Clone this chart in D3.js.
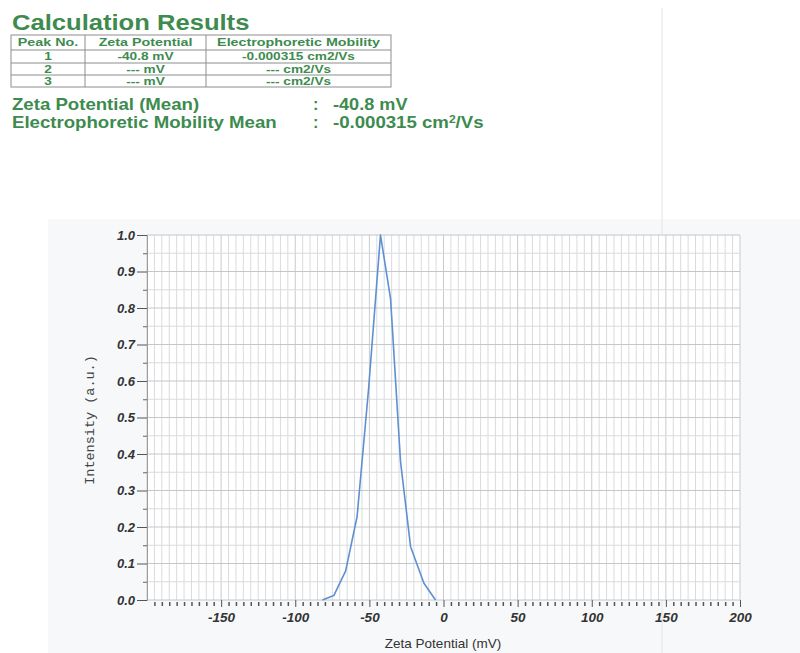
<!DOCTYPE html>
<html><head><meta charset="utf-8">
<script src="https://cdn.jsdelivr.net/npm/d3@7"></script>
<style>body{margin:0;background:#fff;}svg{display:block;}</style>
</head><body>
<svg id="c" width="800" height="653"></svg>
<script>
// ---- data ----
const zeta = [-81.7, -74, -66, -58.3, -50.5, -42.5, -35.7, -29, -22.2, -13.2, -5.4];
const intensity = [0.0, 0.012, 0.08, 0.228, 0.58, 1.0, 0.825, 0.38, 0.146, 0.046, 0.0];
const xTickLabels = [-150, -100, -50, 0, 50, 100, 150, 200];
const yTickLabels = [0, 0.1, 0.2, 0.3, 0.4, 0.5, 0.6, 0.7, 0.8, 0.9, 1.0];
const tableHeader = ["Peak No.", "Zeta Potential", "Electrophoretic Mobility"];
const tableRows = [["1", "-40.8 mV", "-0.000315 cm2/Vs"], ["2", "--- mV", "--- cm2/Vs"], ["3", "--- mV", "--- cm2/Vs"]];
const meanZeta = "-40.8 mV";
const meanMobility = "-0.000315";

(function () {
const svg = d3.select("#c");
const green = "#3d8b4e";
const sans = "Liberation Sans, Arial, sans-serif";
// horizontally widen a text element around its anchor x
function widen(sel, k, x0) {
  sel.attr("transform", `translate(${x0},0) scale(${k},1) translate(${-x0},0)`);
  return sel;
}

// faint page background / scan artifacts
svg.append("rect").attr("x", 48).attr("y", 219).attr("width", 752).attr("height", 434).attr("fill", "#f6f8f9");
svg.append("line").attr("x1", 662).attr("x2", 662).attr("y1", 8).attr("y2", 653).attr("stroke", "#e2e4e6").attr("stroke-width", 1);

// ---- header ----
widen(svg.append("text").attr("x", 12).attr("y", 30).text("Calculation Results")
  .attr("font-family", sans).attr("font-weight", "bold")
  .attr("font-size", 21.5).attr("fill", green), 1.19, 12);

const colX = [11, 85, 206, 391];
const rowY = [35, 50, 63, 75, 87];
const tbl = svg.append("g");
tbl.append("rect").attr("x", colX[0]).attr("y", rowY[0]).attr("width", colX[3] - colX[0]).attr("height", rowY[4] - rowY[0])
  .attr("fill", "#fff").attr("stroke", "#8a8f8c").attr("stroke-width", 1);
rowY.slice(1, 4).forEach(yy => tbl.append("line").attr("x1", colX[0]).attr("x2", colX[3]).attr("y1", yy).attr("y2", yy).attr("stroke", "#8a8f8c"));
colX.slice(1, 3).forEach(xx => tbl.append("line").attr("x1", xx).attr("x2", xx).attr("y1", rowY[0]).attr("y2", rowY[4]).attr("stroke", "#8a8f8c"));
const allRows = [tableHeader].concat(tableRows);
allRows.forEach((r, i) => {
  r.forEach((t, j) => {
    const cx = (colX[j] + colX[j + 1]) / 2;
    widen(tbl.append("text").attr("x", cx).attr("y", (rowY[i] + rowY[i + 1]) / 2 + 4)
      .attr("text-anchor", "middle").text(t)
      .attr("font-family", sans).attr("font-weight", "bold")
      .attr("font-size", i === 0 ? 11 : 10.5).attr("fill", green), 1.3, cx);
  });
});

const meanG = svg.append("g").attr("font-family", sans).attr("font-weight", "bold")
  .attr("font-size", 16.2).attr("fill", green);
widen(meanG.append("text").attr("x", 12).attr("y", 110).text("Zeta Potential (Mean)"), 1.15, 12);
widen(meanG.append("text").attr("x", 12).attr("y", 128).text("Electrophoretic Mobility Mean"), 1.15, 12);
meanG.append("text").attr("x", 313).attr("y", 110).text(":");
meanG.append("text").attr("x", 313).attr("y", 128).text(":");
widen(meanG.append("text").attr("x", 333).attr("y", 110).text(meanZeta), 1.12, 333);
const mt = meanG.append("text").attr("x", 333).attr("y", 128);
mt.append("tspan").text(meanMobility + " cm");
mt.append("tspan").attr("font-size", 10.5).attr("dy", -5).text("2");
mt.append("tspan").attr("dy", 5).text("/Vs");
widen(mt, 1.15, 333);

// ---- chart ----
const pL = 147, pR = 740, pT = 235, pB = 600;
const x = d3.scaleLinear().domain([-200, 200]).range([pL, pR]);
const y = d3.scaleLinear().domain([0, 1]).range([pB, pT]);

const grid = svg.append("g");
grid.append("rect").attr("x", pL).attr("y", pT).attr("width", pR - pL).attr("height", pB - pT).attr("fill", "#fff");
d3.range(-200, 201, 5).forEach(v => {
  grid.append("line").attr("x1", x(v)).attr("x2", x(v)).attr("y1", pT).attr("y2", pB)
    .attr("stroke", v % 50 === 0 ? "#c8cacc" : "#d9dbdd").attr("stroke-width", 1);
});
d3.range(0, 21).forEach(k => {
  const v = k * 0.05;
  grid.append("line").attr("x1", pL).attr("x2", pR).attr("y1", y(v)).attr("y2", y(v))
    .attr("stroke", k % 2 === 0 ? "#c4c6c8" : "#d9dbdd").attr("stroke-width", 1);
});

// y axis
const yAxis = d3.axisLeft(y).tickValues(yTickLabels).tickSize(10).tickPadding(2).tickFormat(d => d.toFixed(1));
const yg = svg.append("g").attr("transform", `translate(${pL},0)`).call(yAxis);
yg.select(".domain").attr("stroke", "#9a9c9e");
yg.selectAll(".tick line").attr("stroke", "#555");
yg.selectAll("text").attr("font-family", sans).attr("font-weight", "bold")
  .attr("font-style", "italic").attr("font-size", 13).attr("fill", "#333");
const yMinor = d3.axisLeft(y).tickValues(d3.range(0, 10).map(k => k * 0.1 + 0.05)).tickSize(4).tickFormat("");
const ymg = svg.append("g").attr("transform", `translate(${pL},0)`).call(yMinor);
ymg.select(".domain").remove();
ymg.selectAll(".tick line").attr("stroke", "#666");

// x axis
const xMinor = d3.axisBottom(x).tickValues(d3.range(-195, 200, 5).filter(v => v % 50 !== 0)).tickSize(4).tickFormat("");
const xmg = svg.append("g").attr("transform", `translate(0,${pB + 2})`).call(xMinor);
xmg.select(".domain").remove();
xmg.selectAll(".tick line").attr("stroke", "#555").attr("stroke-width", 1.5);
const xAxis = d3.axisBottom(x).tickValues(xTickLabels).tickSize(7).tickPadding(5).tickFormat(d => String(d));
const xg = svg.append("g").attr("transform", `translate(0,${pB})`).call(xAxis);
xg.select(".domain").remove();
xg.selectAll(".tick line").attr("stroke", "#555");
xg.selectAll("text").attr("font-family", sans).attr("font-weight", "bold")
  .attr("font-style", "italic").attr("font-size", 13.5).attr("fill", "#333");

// line
const line = d3.line().x((d, i) => x(zeta[i])).y((d, i) => y(intensity[i]));
svg.append("path").datum(zeta).attr("d", line).attr("fill", "none")
  .attr("stroke", "#5f8fd2").attr("stroke-width", 1.6).attr("stroke-linejoin", "round");

// titles
svg.append("text").attr("x", 443).attr("y", 648).attr("text-anchor", "middle").text("Zeta Potential (mV)")
  .attr("font-family", sans).attr("font-size", 13.5).attr("fill", "#333");
svg.append("text").attr("transform", "translate(94,420) rotate(-90)").attr("text-anchor", "middle")
  .text("Intensity (a.u.)").attr("font-family", "Liberation Mono, Courier New, monospace")
  .attr("font-size", 13.5).attr("fill", "#444");
})();
</script>
</body></html>
